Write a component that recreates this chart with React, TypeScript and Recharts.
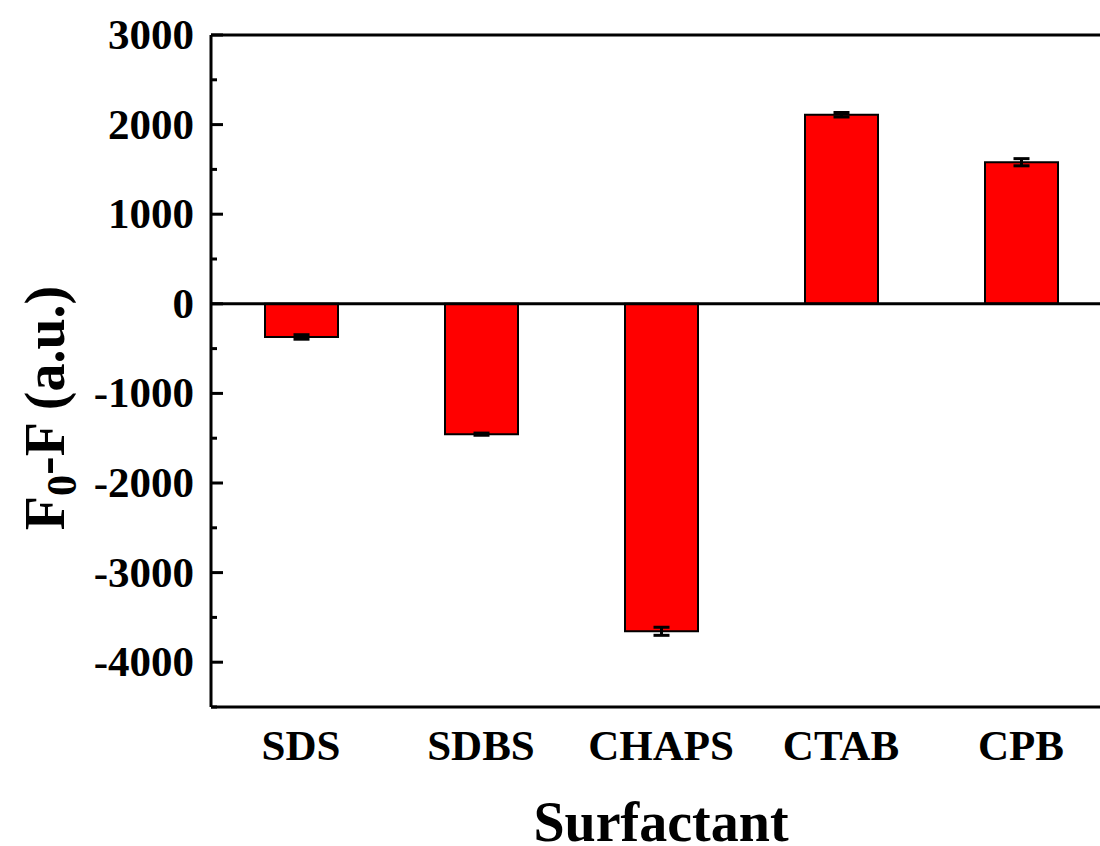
import { BarChart, Bar, XAxis, YAxis, ErrorBar, ReferenceLine } from "recharts";

const surfactants = ["SDS", "SDBS", "CHAPS", "CTAB", "CPB"];
const quench = [-370, -1455, -3655, 2110, 1580];
const quenchErr = [25, 12, 45, 25, 40];
const yTicks = [-4500, -4000, -3500, -3000, -2500, -2000, -1500, -1000, -500, 0, 500, 1000, 1500, 2000, 2500, 3000];

const data = surfactants.map((name, i) => ({
  name,
  value: quench[i],
  err: quenchErr[i],
}));

const FONT = "'Liberation Serif', 'Times New Roman', serif";

function YTick({ x, y, payload }: any) {
  const major = payload.value % 1000 === 0;
  return (
    <g>
      <line x1={x} x2={x + (major ? 12 : 6)} y1={y} y2={y} stroke="#000" strokeWidth={3} />
      {major && payload.value !== -4500 && (
        <text x={x - 17} y={y + 14} textAnchor="end" fontFamily={FONT} fontWeight="bold" fontSize={43} fill="#000">
          {payload.value}
        </text>
      )}
    </g>
  );
}

function XTick({ x, y, payload }: any) {
  return (
    <text x={x} y={y + 53} textAnchor="middle" fontFamily={FONT} fontWeight="bold" fontSize={43} fill="#000">
      {payload.value}
    </text>
  );
}

export default function App() {
  return (
    <div style={{ position: "absolute", left: 0, top: 0, width: 1100, height: 846, overflow: "hidden", background: "#fff" }}>
      <BarChart width={1125} height={846} data={data} margin={{ top: 35, right: 14, left: 0, bottom: 0 }} barSize={73}>
        <XAxis
          dataKey="name"
          height={139}
          tickSize={0}
          tickMargin={0}
          tick={<XTick />}
          axisLine={{ stroke: "#000", strokeWidth: 3 }}
          tickLine={false}
          label={({ viewBox }: any) => (
            <text
              x={viewBox.x + viewBox.width / 2}
              y={viewBox.y + 134}
              textAnchor="middle"
              fontFamily={FONT}
              fontWeight="bold"
              fontSize={56}
              fill="#000"
            >
              Surfactant
            </text>
          )}
        />
        <YAxis
          width={211}
          domain={[-4500, 3000]}
          ticks={yTicks}
          interval={0}
          tickSize={0}
          tickMargin={0}
          tick={<YTick />}
          tickLine={false}
          axisLine={{ stroke: "#000", strokeWidth: 3 }}
          label={() => (
            <text
              transform="translate(64, 408) rotate(-90)"
              textAnchor="middle"
              fontFamily={FONT}
              fontWeight="bold"
              fontSize={56}
              fill="#000"
            >
              F
              <tspan fontSize={42} dy={12}>0</tspan>
              <tspan dy={-12}>-F (a.u.)</tspan>
            </text>
          )}
        />
        <ReferenceLine y={3000} stroke="#000" strokeWidth={3} ifOverflow="visible" />
        <Bar dataKey="value" fill="#ff0000" stroke="#000" strokeWidth={2} isAnimationActive={false}>
          <ErrorBar dataKey="err" width={8} stroke="#000" strokeWidth={3} direction="y" />
        </Bar>
        <ReferenceLine y={0} stroke="#000" strokeWidth={3} />
      </BarChart>
    </div>
  );
}
